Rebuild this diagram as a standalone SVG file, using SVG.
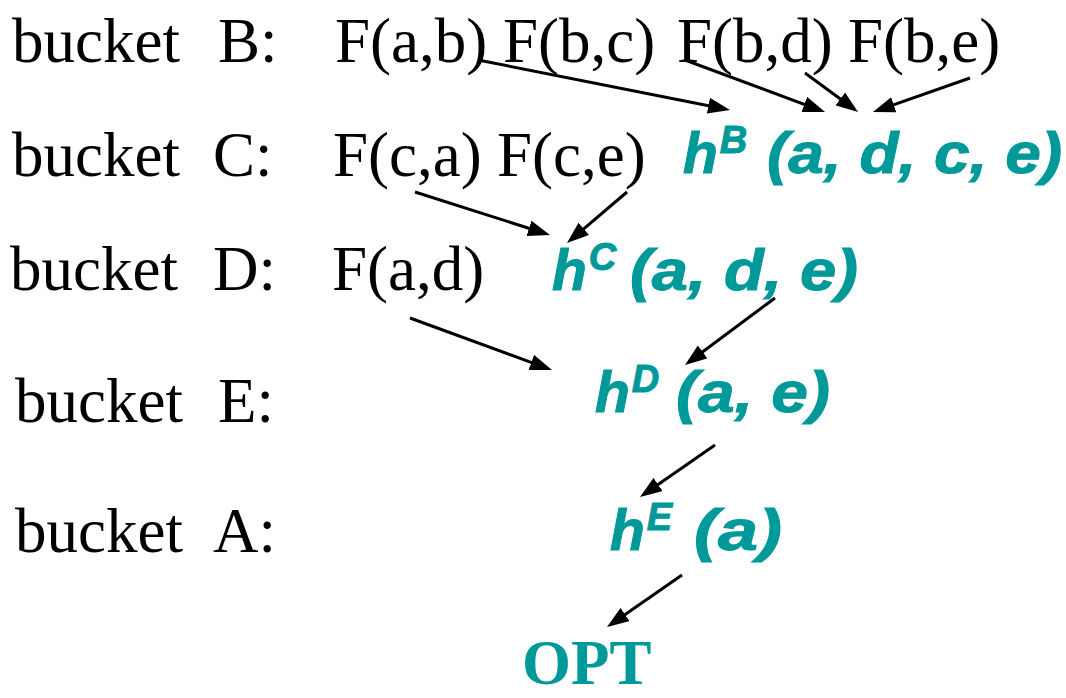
<svg xmlns="http://www.w3.org/2000/svg" width="1066" height="698" viewBox="0 0 1066 698">
<style>
.lbl{font-family:"Liberation Serif","Times New Roman",serif;font-size:63px;fill:#000}
.h{font-family:"Liberation Sans",Arial,sans-serif;font-size:57px;font-weight:bold;font-style:italic;fill:#009999;stroke:#009999;stroke-width:1}
.sup{font-size:38px}
.opt{font-family:"Liberation Serif","Times New Roman",serif;font-size:63px;font-weight:bold;fill:#009999}
.ar{stroke:#000;stroke-width:3;fill:none;marker-end:url(#ah)}
</style>
<defs>
<marker id="ah" markerUnits="userSpaceOnUse" markerWidth="22" markerHeight="16" viewBox="0 0 22 16" refX="17" refY="8" orient="auto">
<path d="M0,0 L22,8 L0,16 z" fill="#000"/>
</marker>
</defs>
<rect width="1066" height="698" fill="#fff"/>
<g id="bucketB">
<text class="lbl" x="12" y="62">bucket<tspan x="218">B:</tspan></text>
<text class="lbl" x="335" y="62">F(a,b)</text>
<text class="lbl" x="503" y="62">F(b,c)</text>
<text class="lbl" x="677" y="62">F(b,d)</text>
<text class="lbl" x="848" y="62">F(b,e)</text>
</g>
<g id="bucketC">
<text class="lbl" x="12" y="176">bucket<tspan x="213">C:</tspan></text>
<text class="lbl" x="333" y="176">F(c,a)</text>
<text class="lbl" x="497" y="176">F(c,e)</text>
<text class="h" x="683" y="173">h<tspan class="sup" dx="2" dy="-20">B</tspan></text>
<text class="h" x="767" y="173" textLength="295" lengthAdjust="spacingAndGlyphs">(a, d, c, e)</text>
</g>
<g id="bucketD">
<text class="lbl" x="10" y="290">bucket<tspan x="213">D:</tspan></text>
<text class="lbl" x="332" y="290">F(a,d)</text>
<text class="h" x="552" y="290">h<tspan class="sup" dx="2" dy="-20">C</tspan></text>
<text class="h" x="630" y="290" textLength="228" lengthAdjust="spacingAndGlyphs">(a, d, e)</text>
</g>
<g id="bucketE">
<text class="lbl" x="15" y="422">bucket<tspan x="218">E:</tspan></text>
<text class="h" x="595" y="412">h<tspan class="sup" dx="2" dy="-20">D</tspan></text>
<text class="h" x="676" y="412" textLength="154" lengthAdjust="spacingAndGlyphs">(a, e)</text>
</g>
<g id="bucketA">
<text class="lbl" x="15" y="552">bucket<tspan x="213">A:</tspan></text>
<text class="h" x="610" y="550">h<tspan class="sup" dx="2" dy="-20">E</tspan></text>
<text class="h" x="694" y="550" textLength="88" lengthAdjust="spacingAndGlyphs">(a)</text>
</g>
<g id="opt">
<text class="opt" x="522" y="684">OPT</text>
</g>
<g id="connectors">
<line class="ar" x1="478" y1="60" x2="725.1" y2="109.0"/>
<line class="ar" x1="685" y1="60" x2="820.3" y2="110.3"/>
<line class="ar" x1="805" y1="73" x2="854.0" y2="109.0"/>
<line class="ar" x1="970" y1="78" x2="877.7" y2="110.3"/>
<line class="ar" x1="415" y1="192" x2="545.2" y2="233.5"/>
<line class="ar" x1="627" y1="192" x2="570.8" y2="239.8"/>
<line class="ar" x1="410" y1="318" x2="547.3" y2="368.3"/>
<line class="ar" x1="775" y1="298" x2="689.0" y2="362.0"/>
<line class="ar" x1="715" y1="445" x2="644.1" y2="494.2"/>
<line class="ar" x1="682" y1="575" x2="611.1" y2="624.2"/>
</g>
</svg>
